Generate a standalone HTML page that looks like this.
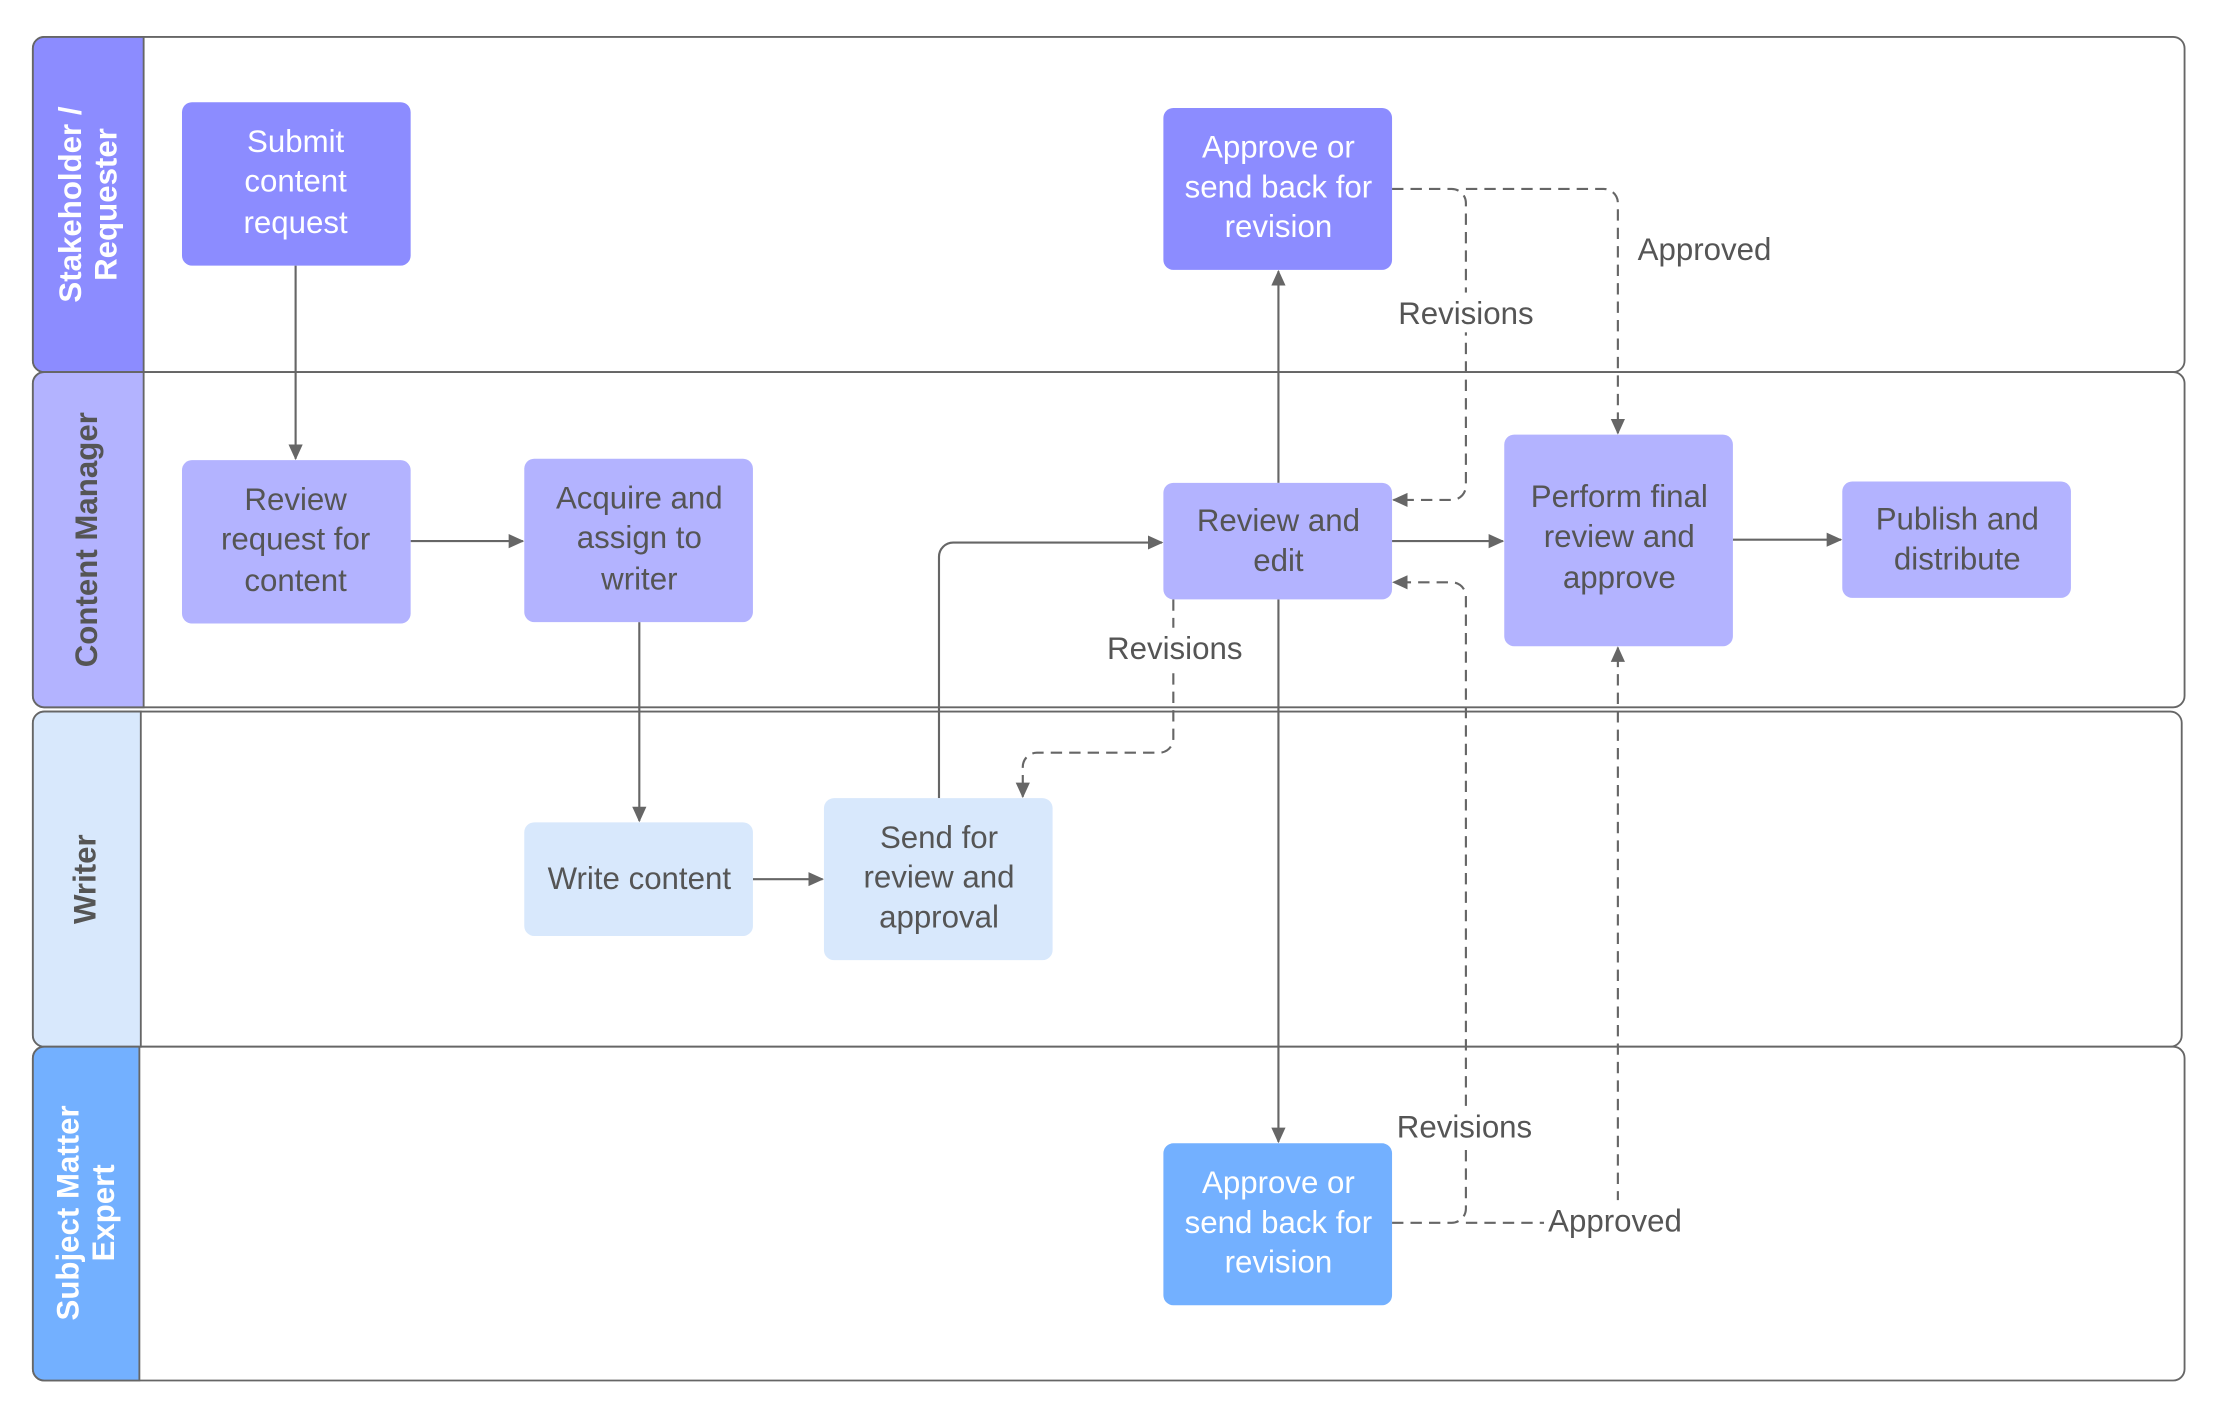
<!DOCTYPE html>
<html><head><meta charset="utf-8"><style>
html,body{margin:0;padding:0;background:#fff;}
svg{display:block;}
text{font-family:"Liberation Sans",Arial,sans-serif;}
</style></head><body>
<svg width="2216" height="1416" viewBox="0 0 1560 997" xmlns="http://www.w3.org/2000/svg">
<defs>
<marker id="a" markerWidth="12" markerHeight="12" refX="10" refY="6" orient="auto" markerUnits="userSpaceOnUse">
<path d="M0,1 L11,6 L0,11 Z" fill="#666"/></marker>
</defs>
<!-- lanes -->
<g stroke="#666" stroke-width="1.3">
<rect x="23" y="26" width="1515" height="236" rx="8" fill="#fff"/>
<rect x="23" y="262" width="1515" height="236" rx="8" fill="#fff"/>
<rect x="23" y="501" width="1513" height="236" rx="8" fill="#fff"/>
<rect x="23" y="737" width="1515" height="235" rx="8" fill="#fff"/>
</g>
<path d="M31,26 H101 V262 H31 a8,8 0 0 1 -8,-8 V34 a8,8 0 0 1 8,-8Z" fill="#8c8cff" stroke="#666" stroke-width="1.3"/>
<path d="M31,262 H101 V498 H31 a8,8 0 0 1 -8,-8 V270 a8,8 0 0 1 8,-8Z" fill="#b3b3ff" stroke="#666" stroke-width="1.3"/>
<path d="M31,501 H99 V737 H31 a8,8 0 0 1 -8,-8 V509 a8,8 0 0 1 8,-8Z" fill="#d8e8fc" stroke="#666" stroke-width="1.3"/>
<path d="M31,737 H98 V972 H31 a8,8 0 0 1 -8,-8 V745 a8,8 0 0 1 8,-8Z" fill="#73b0ff" stroke="#666" stroke-width="1.3"/>
<g font-size="22" font-weight="bold" text-anchor="middle">
<text transform="translate(62,144) rotate(-90)" fill="#fff"><tspan x="0" y="-5">Stakeholder /</tspan><tspan x="0" y="20">Requester</tspan></text>
<text transform="translate(68,380) rotate(-90)" fill="#555">Content Manager</text>
<text transform="translate(67,619) rotate(-90)" fill="#555">Writer</text>
<text transform="translate(60,854) rotate(-90)" fill="#fff"><tspan x="0" y="-5">Subject Matter</tspan><tspan x="0" y="20">Expert</tspan></text>
</g>
<!-- connectors solid -->
<g stroke="#666" stroke-width="1.5" fill="none" marker-end="url(#a)">
<path d="M208,187 V323"/>
<path d="M289,381 H368"/>
<path d="M450,438 V578"/>
<path d="M530,619 H579"/>
<path d="M661,562 V392 a10,10 0 0 1 10,-10 H818"/>
<path d="M900,340 V191"/>
<path d="M900,422 V804"/>
<path d="M980,381 H1058"/>
<path d="M1220,380 H1296"/>
</g>
<!-- dashed -->
<g stroke="#666" stroke-width="1.5" fill="none" stroke-dasharray="8,5" marker-end="url(#a)">
<path d="M980,133 H1022 a10,10 0 0 1 10,10 V342 a10,10 0 0 1 -10,10 H981"/>
<path d="M1032,133 H1129 a10,10 0 0 1 10,10 V305"/>
<path d="M826,422 V520 a10,10 0 0 1 -10,10 H730 a10,10 0 0 0 -10,10 V561"/>
<path d="M980,861 H1022 a10,10 0 0 0 10,-10 V420 a10,10 0 0 0 -10,-10 H981"/>
<path d="M1032,861 H1129 a10,10 0 0 0 10,-10 V456"/>
</g>
<!-- connector labels -->
<g font-size="22" fill="#555" text-anchor="middle">
<rect x="978" y="206" width="108" height="28" fill="#fff"/>
<text x="1032" y="228">Revisions</text>
<text x="1200" y="183">Approved</text>
<rect x="773" y="442" width="108" height="28" fill="#fff"/>
<text x="827" y="464">Revisions</text>
<rect x="977" y="779" width="108" height="28" fill="#fff"/>
<text x="1031" y="801">Revisions</text>
<rect x="1087" y="845" width="102" height="28" fill="#fff"/>
<text x="1137" y="867">Approved</text>
</g>
<!-- nodes -->
<g font-size="22" text-anchor="middle">
<rect x="128" y="72" width="161" height="115" rx="7" fill="#8c8cff"/>
<text fill="#fff"><tspan x="208" y="107">Submit</tspan><tspan x="208" y="135">content</tspan><tspan x="208" y="164">request</tspan></text>
<rect x="128" y="324" width="161" height="115" rx="7" fill="#b3b3ff"/>
<text fill="#555"><tspan x="208" y="359">Review</tspan><tspan x="208" y="387">request for</tspan><tspan x="208" y="416">content</tspan></text>
<rect x="369" y="323" width="161" height="115" rx="7" fill="#b3b3ff"/>
<text fill="#555"><tspan x="450" y="358">Acquire and</tspan><tspan x="450" y="386">assign to</tspan><tspan x="450" y="415">writer</tspan></text>
<rect x="369" y="579" width="161" height="80" rx="7" fill="#d8e8fc"/>
<text fill="#555" x="450" y="626">Write content</text>
<rect x="580" y="562" width="161" height="114" rx="7" fill="#d8e8fc"/>
<text fill="#555"><tspan x="661" y="597">Send for</tspan><tspan x="661" y="625">review and</tspan><tspan x="661" y="653">approval</tspan></text>
<rect x="819" y="340" width="161" height="82" rx="7" fill="#b3b3ff"/>
<text fill="#555"><tspan x="900" y="374">Review and</tspan><tspan x="900" y="402">edit</tspan></text>
<rect x="819" y="76" width="161" height="114" rx="7" fill="#8c8cff"/>
<text fill="#fff"><tspan x="900" y="111">Approve or</tspan><tspan x="900" y="139">send back for</tspan><tspan x="900" y="167">revision</tspan></text>
<rect x="1059" y="306" width="161" height="149" rx="7" fill="#b3b3ff"/>
<text fill="#555"><tspan x="1140" y="357">Perform final</tspan><tspan x="1140" y="385">review and</tspan><tspan x="1140" y="414">approve</tspan></text>
<rect x="1297" y="339" width="161" height="82" rx="7" fill="#b3b3ff"/>
<text fill="#555"><tspan x="1378" y="373">Publish and</tspan><tspan x="1378" y="401">distribute</tspan></text>
<rect x="819" y="805" width="161" height="114" rx="7" fill="#73b0ff"/>
<text fill="#fff"><tspan x="900" y="840">Approve or</tspan><tspan x="900" y="868">send back for</tspan><tspan x="900" y="896">revision</tspan></text>
</g>
</svg>
</body></html>
